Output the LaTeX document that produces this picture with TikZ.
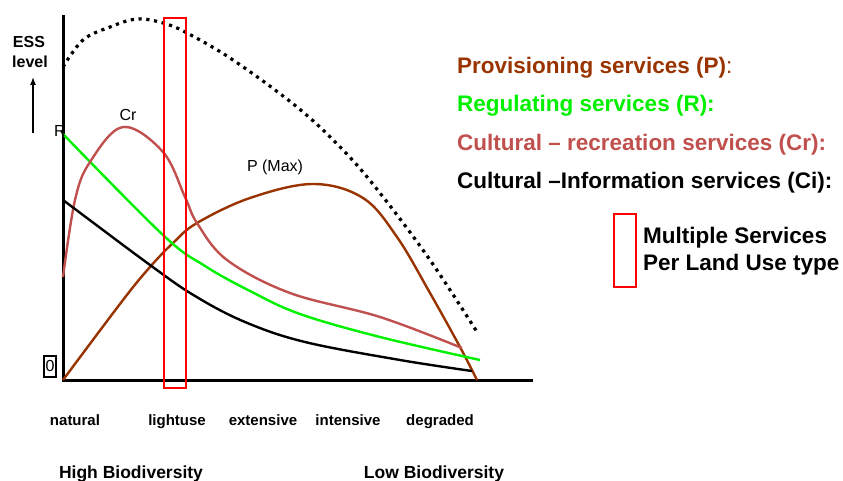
\documentclass[tikz,border=0pt]{standalone}
\usepackage{fontspec}
\setmainfont{Liberation Sans}
\usepackage{tikz}
\usetikzlibrary{arrows.meta}

\definecolor{provbrown}{RGB}{153,51,0}
\definecolor{reggreen}{RGB}{0,240,0}
\definecolor{recrose}{RGB}{192,80,77}

\tikzset{
  curve/.style={line width=2.4pt,smooth,tension=0.6},
  legend/.style={anchor=base west,inner sep=0pt,font=\bfseries\fontsize{22.5}{26}\selectfont},
  landuse/.style={anchor=base,inner sep=0pt,font=\bfseries\fontsize{15}{18}\selectfont},
  small/.style={inner sep=0pt,font=\fontsize{16}{19}\selectfont}
}

\begin{document}
\begin{tikzpicture}[x=1pt,y=-1pt]
   \useasboundingbox (0,0) rectangle (843,481);
   % axes
   \coordinate (origin) at (63,380);
   \coordinate (ytop) at (63,15);
   \coordinate (xend) at (533,380);
   \draw[line width=3pt] (ytop) -- (origin) -- (xend);
   \node[draw,line width=2pt,inner xsep=1.5pt,minimum height=21pt,font=\fontsize{16}{19}\selectfont] (zero) at (50,366) {0};
   \node[anchor=base,inner sep=0pt,font=\bfseries\fontsize{16}{19}\selectfont] (ess) at (29,48) {ESS};
   \node[anchor=base,inner sep=0pt,font=\bfseries\fontsize{16}{19}\selectfont] (lvl) at (30,68) {level};
   \coordinate (arrlow) at (33,133);
   \coordinate (arrtip) at (33,77);
   \draw[line width=1.3pt,-{Latex[length=8pt,width=6pt]}] (arrlow) -- (arrtip);
   % maximum curve
   \draw[line width=3.2pt,dash pattern=on 3.2pt off 4.6pt,smooth,tension=0.6] plot coordinates
     {(63,67) (83,40) (110,27) (137,19) (163,23) (187,33) (233,60) (297,107) (343,150) (380,193) (430,260) (477,332)};
   % services
   \draw[curve,provbrown] plot coordinates
     {(63,380) (123,300) (150,267) (173,243) (197,223) (250,198) (313,184) (363,198) (397,237) (430,293) (460,347) (477,380)};
   \draw[curve,reggreen] plot coordinates
     {(63,134) (163,235) (205,266) (250,291) (300,314) (380,337) (480,360)};
   \draw[curve,recrose] plot coordinates
     {(63,277) (75,200) (90,162) (123,127) (163,152) (185,197) (197,223) (227,260) (290,293) (380,317) (462,348)};
   \draw[curve,black] plot coordinates
     {(63,200) (150,265) (195,296) (245,322) (305,342) (400,360) (472,371)};
   \node[small] (rlab) at (60,131) {R};
   \node[small] (crlab) at (128,115) {Cr};
   \node[small] (plab) at (275,167) {P (Max)};
   % land use band
   \draw[red,line width=2.4pt] (164,18) rectangle (186,388);
   \foreach \x/\t in {75/natural,177/lightuse,263/extensive,348/intensive,440/degraded}
     \node[landuse] (lu-\t) at (\x,425) {\t};
   \node[anchor=base,inner sep=0pt,font=\bfseries\fontsize{17.5}{20}\selectfont] (highbio) at (131,478) {High Biodiversity};
   \node[anchor=base,inner sep=0pt,font=\bfseries\fontsize{17.5}{20}\selectfont] (lowbio) at (434,478) {Low Biodiversity};
   % legend
   \node[legend,provbrown] (provis) at (457,74) {Provisioning services (P)\mdseries:};
   \node[legend,reggreen] (regul) at (457,112) {Regulating services (R):};
   \node[legend,recrose] (recre) at (457,151) {Cultural -- recreation services (Cr):};
   \node[legend,black] (inform) at (457,189) {Cultural --Information services (Ci):};
   \draw[red,line width=2.4pt] (614,214) rectangle (636,287);
   \node[legend] (multi) at (643,243) {Multiple Services};
   \node[legend] (perlu) at (643,270) {Per Land Use type};
\end{tikzpicture}
\end{document}
